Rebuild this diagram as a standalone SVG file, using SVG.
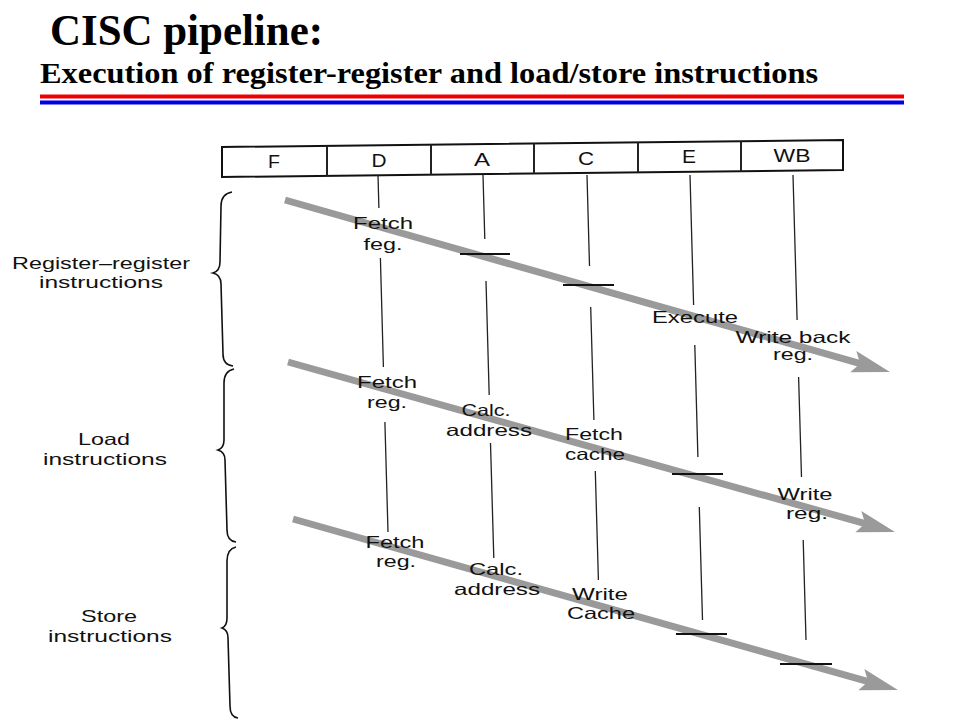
<svg xmlns="http://www.w3.org/2000/svg" width="960" height="720" viewBox="0 0 960 720">
<style>
.title{font-family:"Liberation Serif","Times New Roman",serif;font-weight:bold;fill:#000}
.lbl{font-family:"Liberation Sans",Arial,sans-serif;font-size:16.5px;fill:#111;text-anchor:middle}
.hdr{font-family:"Liberation Sans",Arial,sans-serif;font-size:18px;fill:#111;text-anchor:middle}
.vl{stroke:#222;stroke-width:1.3;fill:none}
.tick{stroke:#111;stroke-width:2;fill:none}
.arrow{stroke:#9a9a9a;stroke-width:7;fill:none;marker-end:url(#ah)}
.brace{stroke:#111;stroke-width:1.6;fill:none}
.box{stroke:#111;stroke-width:2;fill:#fff}
</style>
<defs>
<marker id="ah" markerUnits="userSpaceOnUse" viewBox="-40 -14 42 28" markerWidth="42" markerHeight="28" refX="-28" refY="0" orient="auto">
<path d="M0,0 L-38,-11 L-31,0 L-38,11 Z" fill="#9a9a9a"/>
</marker>
</defs>
<rect width="960" height="720" fill="#fff"/>

<g id="title">
<text class="title" x="50" y="45" font-size="44" textLength="273" lengthAdjust="spacingAndGlyphs">CISC pipeline:</text>
<text class="title" x="40" y="83" font-size="30" textLength="778" lengthAdjust="spacingAndGlyphs">Execution of register-register and load/store instructions</text>
<rect x="40" y="94.5" width="864" height="4" fill="#f00000"/>
<rect x="40" y="100.5" width="864" height="4" fill="#0000e8"/>
</g>

<g id="header">
<path class="box" d="M222,147 L843,140 L843,170 L222,177 Z"/>
<path class="vl" style="stroke-width:2" d="M327,145.8 L327,175.8 M431,144.6 L431,174.6 M534,143.5 L534,173.5 M638,142.3 L638,172.3 M741,141.2 L741,171.2"/>
<text class="hdr" x="274" y="168" textLength="12" lengthAdjust="spacingAndGlyphs">F</text>
<text class="hdr" x="379" y="167" textLength="15" lengthAdjust="spacingAndGlyphs">D</text>
<text class="hdr" x="482" y="166" textLength="16" lengthAdjust="spacingAndGlyphs">A</text>
<text class="hdr" x="586" y="165" textLength="16" lengthAdjust="spacingAndGlyphs">C</text>
<text class="hdr" x="689" y="163" textLength="14" lengthAdjust="spacingAndGlyphs">E</text>
<text class="hdr" x="792" y="162" textLength="37" lengthAdjust="spacingAndGlyphs">WB</text>
</g>

<g id="stage-lines">
<path class="vl" d="M378,175 L378.9,208 M380.4,258 L383.4,367 M384.9,422 L388,532"/>
<path class="vl" d="M483,175 L484.8,239 M486,281 L489.2,395 M490.5,443 L493.8,558"/>
<path class="vl" d="M587,175 L589.5,266 M590.7,307 L593.9,420 M595.3,471 L598.4,580"/>
<path class="vl" d="M690,175 L693.6,305 M694.8,345 L697.9,457 M699.3,507 L702.5,620"/>
<path class="vl" d="M793,175 L797.1,320 M798.6,377 L801.5,477 M803.2,540 L806,640"/>
</g>

<g id="connectors">
<line class="arrow" x1="285" y1="200" x2="863" y2="364.4"/>
<line class="arrow" x1="288" y1="362" x2="868" y2="524.4"/>
<line class="arrow" x1="293" y1="519" x2="871" y2="682.4"/>
</g>

<g id="ticks">
<line class="tick" x1="460" y1="254" x2="510" y2="254"/>
<line class="tick" x1="563" y1="285" x2="614" y2="285"/>
<line class="tick" x1="672" y1="474" x2="723" y2="474"/>
<line class="tick" x1="676" y1="634" x2="727" y2="634"/>
<line class="tick" x1="780" y1="664" x2="832" y2="664"/>
</g>

<g id="braces">
<path class="brace" d="M232,192 Q221,194 221,206 L220,262 Q220,271 213,273 Q221,275 221,284 L223,354 Q223,365 233,366"/>
<path class="brace" d="M234,369 Q224,371 224,383 L224,440 Q224,448 218,450 Q225,452 225,460 L227,530 Q227,541 236,542"/>
<path class="brace" d="M236,547 Q227,549 227,561 L227,618 Q227,626 222,628 Q228,630 228,638 L230,706 Q230,717 238,718"/>
</g>

<g id="group-labels">
<text class="lbl" x="101" y="269" textLength="178" lengthAdjust="spacingAndGlyphs">Register–register</text>
<text class="lbl" x="101" y="288" textLength="124" lengthAdjust="spacingAndGlyphs">instructions</text>
<text class="lbl" x="104" y="445" textLength="52" lengthAdjust="spacingAndGlyphs">Load</text>
<text class="lbl" x="105" y="465" textLength="124" lengthAdjust="spacingAndGlyphs">instructions</text>
<text class="lbl" x="109" y="622" textLength="56" lengthAdjust="spacingAndGlyphs">Store</text>
<text class="lbl" x="110" y="642" textLength="124" lengthAdjust="spacingAndGlyphs">instructions</text>
</g>

<g id="reg-reg-labels">
<text class="lbl" x="383" y="229" textLength="60" lengthAdjust="spacingAndGlyphs">Fetch</text>
<text class="lbl" x="383" y="250" textLength="39" lengthAdjust="spacingAndGlyphs">feg.</text>
<text class="lbl" x="695" y="323" textLength="86" lengthAdjust="spacingAndGlyphs">Execute</text>
<text class="lbl" x="793" y="343" textLength="115" lengthAdjust="spacingAndGlyphs">Write back</text>
<text class="lbl" x="793" y="360" textLength="40" lengthAdjust="spacingAndGlyphs">reg.</text>
</g>

<g id="load-labels">
<text class="lbl" x="387" y="388" textLength="60" lengthAdjust="spacingAndGlyphs">Fetch</text>
<text class="lbl" x="387" y="408" textLength="40" lengthAdjust="spacingAndGlyphs">reg.</text>
<text class="lbl" x="486" y="416" textLength="49" lengthAdjust="spacingAndGlyphs">Calc.</text>
<text class="lbl" x="489" y="436" textLength="86" lengthAdjust="spacingAndGlyphs">address</text>
<text class="lbl" x="594" y="440" textLength="58" lengthAdjust="spacingAndGlyphs">Fetch</text>
<text class="lbl" x="595" y="460" textLength="60" lengthAdjust="spacingAndGlyphs">cache</text>
<text class="lbl" x="805" y="500" textLength="55" lengthAdjust="spacingAndGlyphs">Write</text>
<text class="lbl" x="807" y="519" textLength="42" lengthAdjust="spacingAndGlyphs">reg.</text>
</g>

<g id="store-labels">
<text class="lbl" x="395" y="548" textLength="59" lengthAdjust="spacingAndGlyphs">Fetch</text>
<text class="lbl" x="396" y="567" textLength="40" lengthAdjust="spacingAndGlyphs">reg.</text>
<text class="lbl" x="496" y="575" textLength="54" lengthAdjust="spacingAndGlyphs">Calc.</text>
<text class="lbl" x="497" y="595" textLength="86" lengthAdjust="spacingAndGlyphs">address</text>
<text class="lbl" x="600" y="600" textLength="56" lengthAdjust="spacingAndGlyphs">Write</text>
<text class="lbl" x="601" y="619" textLength="68" lengthAdjust="spacingAndGlyphs">Cache</text>
</g>
</svg>
